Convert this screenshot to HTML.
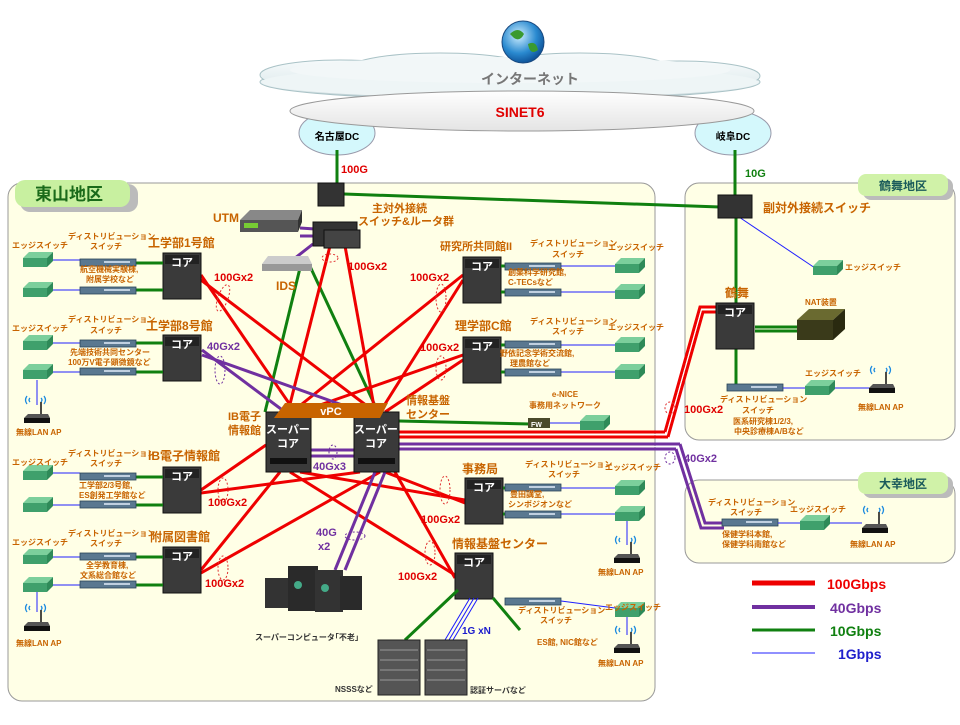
<!DOCTYPE html>
<html><head><meta charset="utf-8"><style>
body{margin:0;background:#fff}
svg text{font-family:"Liberation Sans","Noto Sans CJK JP",sans-serif;font-weight:bold}
.o{fill:#c86400}
.s{font-size:8px;fill:#c86400}
</style></head><body>
<svg width="960" height="720" viewBox="0 0 960 720" xmlns="http://www.w3.org/2000/svg">
<defs>
<linearGradient id="cl" x1="0" y1="0" x2="0" y2="1"><stop offset="0" stop-color="#f6fafb"/><stop offset="0.7" stop-color="#e4eef0"/><stop offset="1" stop-color="#9fb8bd"/></linearGradient>
<linearGradient id="sn" x1="0" y1="0" x2="0" y2="1"><stop offset="0" stop-color="#fff"/><stop offset="1" stop-color="#e4e4e4"/></linearGradient>
<radialGradient id="gl" cx="0.4" cy="0.35" r="0.7"><stop offset="0" stop-color="#cfefff"/><stop offset="0.6" stop-color="#2a8ad0"/><stop offset="1" stop-color="#0a4a90"/></radialGradient>
<g id="core"><rect x="0" y="0" width="38" height="46" fill="#3a3a3a" stroke="#111"/><rect x="2" y="2" width="34" height="9" fill="#222"/><text x="19" y="13" font-size="11" fill="#fff" text-anchor="middle">コア</text></g>
<g id="edge"><polygon points="0,6 6,0 30,0 24,6" fill="#7ccf9c"/><polygon points="24,6 30,0 30,9 24,15" fill="#2e8a58"/><rect x="0" y="6" width="24" height="9" fill="#3fa06c"/></g>
<g id="dist"><rect x="0" y="0" width="56" height="7" fill="#5a7890" stroke="#2a4458" stroke-width="0.8"/><rect x="24" y="2" width="26" height="2" fill="#c0d0e0"/></g>
<g id="ap"><path d="M3,-14 q-3,4 0,8 M20,-14 q3,4 0,8 M6,-12 q-2,2 0,4 M17,-12 q2,2 0,4" stroke="#1a8ae0" fill="none" stroke-width="1.3"/><line x1="17" y1="-8" x2="17" y2="4" stroke="#111" stroke-width="1.5"/><polygon points="0,8 4,4 24,4 26,8" fill="#555"/><rect x="0" y="8" width="26" height="5" fill="#111"/></g>
</defs>

<!-- cloud -->
<g fill="url(#cl)" stroke="#a9c2c6" stroke-width="1">
<ellipse cx="510" cy="82" rx="250" ry="18"/><ellipse cx="340" cy="75" rx="80" ry="15"/><ellipse cx="440" cy="68" rx="90" ry="15"/><ellipse cx="580" cy="68" rx="90" ry="15"/><ellipse cx="680" cy="76" rx="80" ry="15"/>
</g>
<ellipse cx="510" cy="82" rx="248" ry="16" fill="#eef5f6"/>
<ellipse cx="510" cy="70" rx="220" ry="13" fill="#f2f7f8"/>
<circle cx="523" cy="42" r="21" fill="url(#gl)" stroke="#1a4a80"/>
<path d="M510,34 q8,-8 14,0 q-4,8 -10,4z M528,44 q8,-4 10,6 q-8,6 -10,-6z" fill="#3a9a30"/>
<text x="530" y="84" font-size="14" fill="#777" text-anchor="middle">インターネット</text>
<ellipse cx="337" cy="133" rx="38" ry="22" fill="#d4f8fc" stroke="#99a"/>
<ellipse cx="733" cy="133" rx="38" ry="22" fill="#d4f8fc" stroke="#99a"/>
<ellipse cx="522" cy="111" rx="232" ry="20" fill="url(#sn)" stroke="#999"/>
<text x="520" y="117" font-size="14" fill="#e00000" text-anchor="middle">SINET6</text>
<text x="337" y="140" font-size="10" fill="#000" text-anchor="middle">名古屋DC</text>
<text x="733" y="140" font-size="10" fill="#000" text-anchor="middle">岐阜DC</text>

<!-- regions -->
<rect x="8" y="183" width="647" height="518" rx="14" fill="#ffffe6" stroke="#999"/>
<rect x="685" y="183" width="270" height="257" rx="14" fill="#ffffe6" stroke="#999"/>
<rect x="685" y="480" width="270" height="83" rx="14" fill="#ffffe6" stroke="#999"/>
<rect x="20" y="184" width="118" height="28" rx="10" fill="#bbb"/>
<rect x="15" y="180" width="115" height="27" rx="10" fill="#c8f0a0"/>
<text x="35" y="200" font-size="17" fill="#1a6a1a">東山地区</text>
<rect x="863" y="178" width="90" height="22" rx="8" fill="#bbb"/>
<rect x="858" y="174" width="90" height="22" rx="8" fill="#d0f2a8"/>
<text x="903" y="190" font-size="12" fill="#1a5a5a" text-anchor="middle">鶴舞地区</text>
<rect x="863" y="476" width="90" height="22" rx="8" fill="#bbb"/>
<rect x="858" y="472" width="90" height="22" rx="8" fill="#d0f2a8"/>
<text x="903" y="488" font-size="12" fill="#1a5a5a" text-anchor="middle">大幸地区</text>

<!-- green upstream -->
<g stroke="#108010" stroke-width="3" fill="none">
<line x1="337" y1="150" x2="337" y2="185"/>
<line x1="735" y1="150" x2="735" y2="198"/>
<line x1="344" y1="194" x2="720" y2="207"/>
<line x1="736" y1="215" x2="736" y2="305"/>
<line x1="736" y1="347" x2="736" y2="385"/>
<line x1="755" y1="327" x2="800" y2="327"/><line x1="755" y1="331" x2="800" y2="331"/>
<line x1="300" y1="268" x2="265" y2="412"/><line x1="308" y1="262" x2="378" y2="412"/>
<line x1="399" y1="421" x2="530" y2="424"/>
</g>
<text x="341" y="173" font-size="11" fill="#e00000">100G</text>
<text x="745" y="177" font-size="11" fill="#108010">10G</text>
<line x1="736" y1="215" x2="815" y2="268" stroke="#2020ff" stroke-width="1"/>

<!-- red lines -->
<g stroke="#ee0000" stroke-width="3" fill="none">
<line x1="330" y1="246" x2="288" y2="412"/><line x1="345" y1="246" x2="375" y2="412"/>
<line x1="201" y1="275" x2="295" y2="412"/><line x1="201" y1="280" x2="375" y2="412"/>
<line x1="463" y1="275" x2="292" y2="412"/><line x1="463" y1="280" x2="380" y2="412"/>
<line x1="463" y1="355" x2="300" y2="412"/><line x1="463" y1="360" x2="385" y2="412"/>
<line x1="201" y1="490" x2="266" y2="445"/><line x1="201" y1="493" x2="360" y2="472"/>
<line x1="201" y1="570" x2="280" y2="472"/><line x1="201" y1="573" x2="380" y2="472"/>
<line x1="300" y1="472" x2="465" y2="500"/><line x1="385" y1="472" x2="465" y2="503"/>
<line x1="290" y1="472" x2="455" y2="575"/><line x1="395" y1="472" x2="455" y2="578"/>
<line x1="399" y1="432" x2="665" y2="432"/><line x1="399" y1="437" x2="668" y2="437"/>
<polyline points="665,432 700,307 716,307"/><polyline points="668,437 703,312 716,312"/>
</g>
<g stroke="#fff" stroke-width="1" fill="none"><polyline points="399,434.5 666.5,434.5 701.5,309.5 716,309.5"/></g>
<!-- purple -->
<g stroke="#7030a0" stroke-width="3" fill="none">
<line x1="300" y1="228" x2="360" y2="232"/><line x1="300" y1="236" x2="313" y2="236"/>
<line x1="290" y1="262" x2="313" y2="244"/>
<line x1="202" y1="350" x2="285" y2="412"/><line x1="202" y1="355" x2="362" y2="412"/>
<line x1="311" y1="450" x2="354" y2="450"/><line x1="311" y1="456" x2="354" y2="456"/>
<line x1="375" y1="472" x2="335" y2="570"/><line x1="385" y1="472" x2="345" y2="570"/>
<line x1="399" y1="444" x2="680" y2="444"/><line x1="399" y1="449" x2="676" y2="449"/>
<polyline points="680,444 705,523 724,523"/><polyline points="676,449 701,528 724,528"/>
</g>
<line x1="399" y1="446.5" x2="678" y2="446.5" stroke="#fff" stroke-width="1"/>

<!-- dotted ellipses -->
<g fill="none" stroke="#e03030" stroke-dasharray="2,2"><ellipse cx="223" cy="298" rx="5" ry="14" transform="rotate(20 223 298)"/><ellipse cx="441" cy="298" rx="5" ry="14"/><ellipse cx="441" cy="368" rx="5" ry="12"/><ellipse cx="223" cy="490" rx="5" ry="12"/><ellipse cx="223" cy="568" rx="5" ry="12"/><ellipse cx="445" cy="490" rx="5" ry="14"/><ellipse cx="430" cy="553" rx="5" ry="12"/><ellipse cx="670" cy="408" rx="5" ry="6"/><ellipse cx="330" cy="258" rx="8" ry="4"/></g>
<g fill="none" stroke="#7030a0" stroke-dasharray="2,2"><ellipse cx="220" cy="370" rx="5" ry="14"/><ellipse cx="333" cy="452" rx="4" ry="7"/><ellipse cx="355" cy="536" rx="10" ry="4"/><ellipse cx="670" cy="458" rx="5" ry="6"/></g>

<!-- devices top -->
<g transform="translate(240,210)"><polygon points="0,10 10,0 62,0 58,10" fill="#888"/><rect x="0" y="10" width="58" height="12" fill="#555"/><polygon points="58,10 62,0 62,12 58,22" fill="#333"/><rect x="4" y="13" width="14" height="5" fill="#7c3"/></g>
<text x="213" y="222" font-size="12" class="o">UTM</text>
<g transform="translate(262,256)"><polygon points="0,8 6,0 46,0 50,8" fill="#ccc"/><rect x="0" y="8" width="50" height="7" fill="#999"/></g>
<text x="276" y="290" font-size="12" class="o">IDS</text>
<rect x="318" y="183" width="26" height="23" fill="#333" stroke="#111"/>
<rect x="313" y="222" width="44" height="24" fill="#333" stroke="#111"/><rect x="324" y="230" width="36" height="18" fill="#444" stroke="#111"/>
<text x="372" y="212" font-size="11" class="o">主対外接続</text>
<text x="358" y="225" font-size="11" class="o">スイッチ&amp;ルータ群</text>
<text x="348" y="270" font-size="11" fill="#e00000">100Gx2</text>

<!-- cores -->
<use href="#core" x="163" y="253"/><text x="148" y="247" font-size="12" class="o">工学部1号館</text>
<use href="#core" x="163" y="335"/><text x="146" y="330" font-size="12" class="o">工学部8号館</text>
<use href="#core" x="463" y="257"/><text x="440" y="250" font-size="11" class="o">研究所共同館II</text>
<use href="#core" x="463" y="337"/><text x="455" y="330" font-size="12" class="o">理学部C館</text>
<use href="#core" x="163" y="467"/><text x="148" y="460" font-size="12" class="o">IB電子情報館</text>
<use href="#core" x="163" y="547"/><text x="150" y="541" font-size="12" class="o">附属図書館</text>
<use href="#core" x="465" y="478"/><text x="462" y="473" font-size="12" class="o">事務局</text>
<use href="#core" x="455" y="553"/><text x="452" y="548" font-size="12" class="o">情報基盤センター</text>
<use href="#core" x="716" y="303"/><text x="725" y="297" font-size="12" class="o">鶴舞</text>
<rect x="718" y="195" width="34" height="23" fill="#333" stroke="#111"/>
<text x="763" y="212" font-size="12" class="o">副対外接続スイッチ</text>

<!-- super cores -->
<rect x="266" y="412" width="45" height="60" fill="#3a3a3a" stroke="#111"/>
<rect x="354" y="412" width="45" height="60" fill="#3a3a3a" stroke="#111"/>
<rect x="270" y="458" width="37" height="6" fill="#111"/><rect x="358" y="458" width="37" height="6" fill="#111"/>
<polygon points="285,403 388,403 380,418 274,418" fill="#c86400"/>
<text x="331" y="415" font-size="11" fill="#fff" text-anchor="middle">vPC</text>
<text x="288" y="433" font-size="11" fill="#fff" text-anchor="middle">スーパー</text><text x="288" y="447" font-size="11" fill="#fff" text-anchor="middle">コア</text>
<text x="376" y="433" font-size="11" fill="#fff" text-anchor="middle">スーパー</text><text x="376" y="447" font-size="11" fill="#fff" text-anchor="middle">コア</text>
<text x="228" y="420" font-size="11" class="o">IB電子</text><text x="228" y="434" font-size="11" class="o">情報館</text>
<text x="406" y="404" font-size="11" class="o">情報基盤</text><text x="406" y="418" font-size="11" class="o">センター</text>

<!-- speed labels -->
<g font-size="11" fill="#e00000"><text x="214" y="281">100Gx2</text><text x="410" y="281">100Gx2</text><text x="420" y="351">100Gx2</text><text x="208" y="506">100Gx2</text><text x="205" y="587">100Gx2</text><text x="421" y="523">100Gx2</text><text x="398" y="580">100Gx2</text><text x="684" y="413">100Gx2</text></g>
<g font-size="11" fill="#7030a0"><text x="207" y="350">40Gx2</text><text x="313" y="470">40Gx3</text><text x="316" y="536">40G</text><text x="318" y="550">x2</text><text x="684" y="462">40Gx2</text></g>

<!-- supercomputer -->
<g><rect x="265" y="578" width="25" height="30" fill="#333"/><rect x="288" y="566" width="30" height="45" fill="#2a2a2a"/><rect x="315" y="570" width="28" height="42" fill="#333"/><rect x="340" y="576" width="22" height="34" fill="#2a2a2a"/><circle cx="298" cy="585" r="4" fill="#4a8"/><circle cx="325" cy="588" r="4" fill="#4a8"/></g>
<text x="255" y="640" font-size="8" fill="#333">スーパーコンピュータ｢不老｣</text>
<!-- servers -->
<g stroke="#1a1aff" stroke-width="1"><line x1="470" y1="598" x2="445" y2="640"/><line x1="474" y1="598" x2="449" y2="640"/><line x1="478" y1="598" x2="453" y2="640"/></g>
<text x="462" y="634" font-size="10" fill="#1a1acc">1G xN</text>
<g stroke="#108010" stroke-width="3"><line x1="458" y1="590" x2="405" y2="640"/><line x1="493" y1="598" x2="520" y2="630"/></g>
<rect x="378" y="640" width="42" height="55" fill="#555" stroke="#222"/><rect x="425" y="640" width="42" height="55" fill="#555" stroke="#222"/>
<g stroke="#999" stroke-width="1"><line x1="380" y1="650" x2="418" y2="650"/><line x1="380" y1="660" x2="418" y2="660"/><line x1="380" y1="670" x2="418" y2="670"/><line x1="380" y1="680" x2="418" y2="680"/><line x1="427" y1="650" x2="465" y2="650"/><line x1="427" y1="660" x2="465" y2="660"/><line x1="427" y1="670" x2="465" y2="670"/><line x1="427" y1="680" x2="465" y2="680"/></g>
<text x="335" y="692" font-size="8" fill="#333">NSSSなど</text>
<text x="470" y="693" font-size="8" fill="#333">認証サーバなど</text>

<!-- FW / eNICE -->
<rect x="528" y="418" width="22" height="10" fill="#4a4a2a"/><text x="531" y="427" font-size="7" fill="#fff">FW</text>
<line x1="550" y1="423" x2="580" y2="423" stroke="#2020ff"/><use href="#edge" x="580" y="415"/>
<text x="565" y="397" font-size="8" class="s" text-anchor="middle">e-NICE</text>
<text x="565" y="408" font-size="8" class="s" text-anchor="middle">事務用ネットワーク</text>

<!-- left dist/edge groups -->
<g stroke="#108010" stroke-width="3"><line x1="133" y1="263" x2="163" y2="263"/><line x1="133" y1="290" x2="163" y2="290"/><line x1="133" y1="343" x2="163" y2="343"/><line x1="133" y1="372" x2="163" y2="372"/><line x1="133" y1="477" x2="163" y2="477"/><line x1="133" y1="505" x2="163" y2="505"/><line x1="133" y1="557" x2="163" y2="557"/><line x1="133" y1="585" x2="163" y2="585"/>
<line x1="501" y1="266" x2="505" y2="266"/><line x1="501" y1="292" x2="505" y2="292"/><line x1="501" y1="345" x2="505" y2="345"/><line x1="501" y1="372" x2="505" y2="372"/><line x1="503" y1="488" x2="505" y2="488"/><line x1="503" y1="514" x2="505" y2="514"/></g>
<g stroke="#2020ff" stroke-width="1"><line x1="53" y1="260" x2="80" y2="260"/><line x1="53" y1="290" x2="80" y2="290"/><line x1="53" y1="343" x2="80" y2="343"/><line x1="53" y1="372" x2="80" y2="372"/><line x1="53" y1="473" x2="80" y2="473"/><line x1="53" y1="505" x2="80" y2="505"/><line x1="53" y1="557" x2="80" y2="557"/><line x1="53" y1="585" x2="80" y2="585"/><line x1="37" y1="380" x2="37" y2="405"/><line x1="37" y1="592" x2="37" y2="612"/>
<line x1="561" y1="266" x2="615" y2="266"/><line x1="561" y1="292" x2="615" y2="292"/><line x1="561" y1="345" x2="615" y2="345"/><line x1="561" y1="372" x2="615" y2="372"/><line x1="561" y1="488" x2="615" y2="488"/><line x1="561" y1="514" x2="615" y2="514"/><line x1="627" y1="520" x2="627" y2="545"/><line x1="627" y1="610" x2="627" y2="635"/></g>
<g>
<use href="#dist" x="80" y="259"/><use href="#dist" x="80" y="287"/><use href="#dist" x="80" y="340"/><use href="#dist" x="80" y="368"/><use href="#dist" x="80" y="473"/><use href="#dist" x="80" y="501"/><use href="#dist" x="80" y="553"/><use href="#dist" x="80" y="581"/>
<use href="#dist" x="505" y="263"/><use href="#dist" x="505" y="289"/><use href="#dist" x="505" y="341"/><use href="#dist" x="505" y="369"/><use href="#dist" x="505" y="484"/><use href="#dist" x="505" y="511"/><use href="#dist" x="505" y="598"/>
<use href="#dist" x="727" y="384"/><use href="#dist" x="722" y="519"/>
<use href="#edge" x="23" y="252"/><use href="#edge" x="23" y="282"/><use href="#edge" x="23" y="335"/><use href="#edge" x="23" y="364"/><use href="#edge" x="23" y="465"/><use href="#edge" x="23" y="497"/><use href="#edge" x="23" y="549"/><use href="#edge" x="23" y="577"/>
<use href="#edge" x="615" y="258"/><use href="#edge" x="615" y="284"/><use href="#edge" x="615" y="337"/><use href="#edge" x="615" y="364"/><use href="#edge" x="615" y="480"/><use href="#edge" x="615" y="506"/><use href="#edge" x="615" y="602"/>
<use href="#edge" x="813" y="260"/><use href="#edge" x="805" y="380"/><use href="#edge" x="800" y="515"/>
</g>
<line x1="561" y1="601" x2="615" y2="608" stroke="#2020ff"/>
<g stroke="#2020ff"><line x1="783" y1="388" x2="805" y2="388"/><line x1="835" y1="388" x2="870" y2="388"/><line x1="778" y1="523" x2="800" y2="523"/><line x1="830" y1="523" x2="862" y2="523"/></g>
<use href="#ap" x="24" y="410"/><use href="#ap" x="24" y="618"/><use href="#ap" x="614" y="550"/><use href="#ap" x="614" y="640"/><use href="#ap" x="869" y="380"/><use href="#ap" x="862" y="520"/>
<!-- NAT -->
<polygon points="797,320 809,309 845,309 833,320" fill="#6a6a30"/><rect x="797" y="320" width="36" height="20" fill="#3a3a1a"/><polygon points="833,320 845,309 845,329 833,340" fill="#2a2a10"/>
<text x="805" y="305" font-size="8" class="s">NAT装置</text>

<!-- small labels -->
<g class="s" font-size="8">
<text x="12" y="248">エッジスイッチ</text><text x="68" y="239">ディストリビューション</text><text x="90" y="249">スイッチ</text><text x="80" y="272">航空機械実験棟,</text><text x="86" y="282">附属学校など</text>
<text x="12" y="331">エッジスイッチ</text><text x="68" y="322">ディストリビューション</text><text x="90" y="333">スイッチ</text><text x="70" y="355">先端技術共同センター</text><text x="68" y="365">100万V電子顕微鏡など</text>
<text x="12" y="465">エッジスイッチ</text><text x="68" y="456">ディストリビューション</text><text x="90" y="466">スイッチ</text><text x="79" y="488">工学部2/3号館,</text><text x="79" y="498">ES創発工学館など</text>
<text x="12" y="545">エッジスイッチ</text><text x="68" y="536">ディストリビューション</text><text x="90" y="546">スイッチ</text><text x="86" y="568">全学教育棟,</text><text x="80" y="578">文系総合館など</text>
<text x="16" y="435">無線LAN AP</text><text x="16" y="646">無線LAN AP</text>
<text x="530" y="246">ディストリビューション</text><text x="552" y="257">スイッチ</text><text x="608" y="250">エッジスイッチ</text><text x="508" y="275">創薬科学研究館,</text><text x="508" y="285">C-TECsなど</text>
<text x="530" y="324">ディストリビューション</text><text x="552" y="334">スイッチ</text><text x="608" y="330">エッジスイッチ</text><text x="500" y="356">野依記念学術交流館,</text><text x="510" y="366">理農館など</text>
<text x="525" y="467">ディストリビューション</text><text x="548" y="477">スイッチ</text><text x="605" y="470">エッジスイッチ</text><text x="510" y="497">豊田講堂,</text><text x="508" y="507">シンポジオンなど</text>
<text x="598" y="575">無線LAN AP</text>
<text x="518" y="613">ディストリビューション</text><text x="540" y="623">スイッチ</text><text x="605" y="610">エッジスイッチ</text><text x="537" y="645">ES館, NIC館など</text>
<text x="598" y="666">無線LAN AP</text>
<text x="845" y="270">エッジスイッチ</text>
<text x="720" y="402">ディストリビューション</text><text x="742" y="413">スイッチ</text><text x="733" y="424">医系研究棟1/2/3,</text><text x="734" y="434">中央診療棟A/Bなど</text>
<text x="805" y="376">エッジスイッチ</text><text x="858" y="410">無線LAN AP</text>
<text x="708" y="505">ディストリビューション</text><text x="730" y="515">スイッチ</text><text x="790" y="512">エッジスイッチ</text><text x="722" y="537">保健学科本館,</text><text x="722" y="547">保健学科南館など</text><text x="850" y="547">無線LAN AP</text>
</g>

<!-- legend -->
<line x1="752" y1="583" x2="815" y2="583" stroke="#ee0000" stroke-width="5"/><text x="827" y="589" font-size="14" fill="#ee0000" font-weight="normal">100Gbps</text>
<line x1="752" y1="607" x2="815" y2="607" stroke="#7030a0" stroke-width="4"/><text x="830" y="613" font-size="14" fill="#7030a0" font-weight="normal">40Gbps</text>
<line x1="752" y1="630" x2="815" y2="630" stroke="#108010" stroke-width="3"/><text x="830" y="636" font-size="14" fill="#108010" font-weight="normal">10Gbps</text>
<line x1="752" y1="653" x2="815" y2="653" stroke="#2020ff" stroke-width="1"/><text x="838" y="659" font-size="14" fill="#2020cc" font-weight="normal">1Gbps</text>
</svg>
</body></html>
